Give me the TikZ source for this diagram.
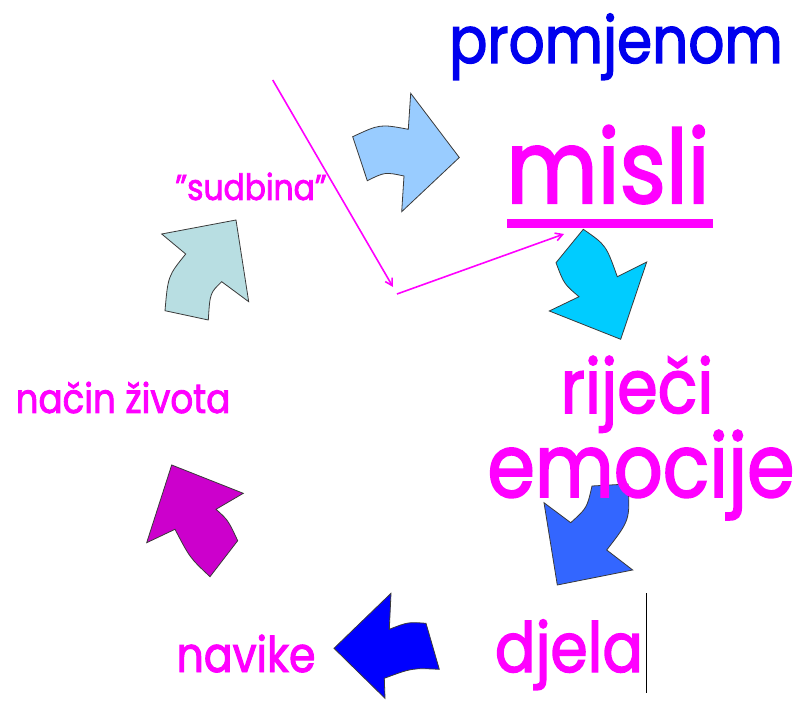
\documentclass[tikz,border=0pt]{standalone}
\usepackage{fontspec}
\setmainfont{Poppins}[FakeStretch=0.87,FakeBold=2]
\usepackage{tikz}
\usetikzlibrary{arrows.meta}
\definecolor{fuchsia}{HTML}{FF00FF}
\definecolor{royal}{HTML}{0000EE}
\definecolor{edge}{HTML}{3A3A3A}
\definecolor{skyArrow}{HTML}{99CCFF}
\definecolor{cyanArrow}{HTML}{00CCFF}
\definecolor{midArrow}{HTML}{3366FF}
\definecolor{deepArrow}{HTML}{0000FF}
\definecolor{plumArrow}{HTML}{CC00CC}
\definecolor{mistArrow}{HTML}{B8DEE2}

\begin{document}
\begin{tikzpicture}[x=1pt,y=-1pt]
  \tikzset{word/.style={text=fuchsia,anchor=base,inner sep=0pt}, block/.style={draw=edge,line width=0.8pt,line join=miter}, pointer/.style={draw=fuchsia,line width=1.6pt,-{Straight Barb[length=7pt,width=8pt]}}}
  \useasboundingbox (0,0) rectangle (796,711);
  % the six bent arrows of the cycle
  \path[block,fill=skyArrow] (352.7,136.7) .. controls (380,124) .. (408.3,129.3) -- (410.7,93.3) -- (459.3,157.5) -- (401.7,211.7) -- (404,176) .. controls (385,172) .. (367.3,180.7) -- cycle;
  \path[block,fill=cyanArrow] (583.3,229.3) .. controls (606,245) .. (617.3,276.7) -- (646.7,262) -- (620.7,339.3) -- (549.3,311) -- (579,296.7) .. controls (564,284) .. (556,262.7) -- cycle;
  \path[block,fill=midArrow] (592,486) -- (628,484) .. controls (630,520) .. (606.7,550) -- (632.7,570) -- (557.3,585) -- (544,502.7) -- (570.7,522.7) .. controls (587,508) .. (592,486) -- cycle;
  \path[block,fill=deepArrow] (391,593.3) -- (334,648.3) -- (385,698.3) -- (384.3,678.3) .. controls (412,668) .. (439.3,669.3) -- (426,623.3) .. controls (408,622) .. (389.3,629.3) -- cycle;
  \path[block,fill=plumArrow] (171.7,465) -- (243.3,493.3) -- (216,509.3) .. controls (228,520) .. (237.7,540.7) -- (210,576.7) .. controls (190,558) .. (175,529.3) -- (146.7,542.7) -- cycle;
  \path[block,fill=mistArrow] (161.7,234) -- (236,220) -- (248.7,301.7) -- (221.7,281.7) .. controls (210,293) .. (208.3,320) -- (165,310.7) .. controls (168,276) .. (185.7,254) -- cycle;
  % words
  \node[word,text=royal,font=\fontsize{65}{65}\selectfont] (promjenom) at (616,63) {promjenom};
  \node[word,font=\fontsize{102}{102}\selectfont] (misli) at (608,203) {misli};
  \fill[fuchsia] (507,219) rectangle (713,228);
  \node[word,font=\fontsize{75}{75}\selectfont] (rijeci) at (637,413) {riječi};
  \node[word,font=\fontsize{88}{88}\selectfont] (emocije) at (641,497) {emocije};
  \node[word,font=\fontsize{69}{69}\selectfont] (djela) at (569,672) {djela};
  \draw[line width=1.5pt] (646.5,593) -- (646.5,693);
  \node[word,font=\fontsize{49}{49}\selectfont] (navike) at (246,672) {navike};
  \node[word,font=\fontsize{41}{41}\selectfont] (nacin) at (123,413) {način života};
  \node[word,font=\fontsize{36}{36}\selectfont] (sudbina) at (251,200) {"sudbina"};
  % pointer lines
  \coordinate (from) at (272.7,80);
  \coordinate (turnA) at (393,287);
  \coordinate (turnB) at (397,294);
  \coordinate (target) at (564,234);
  \draw[pointer] (from) -- (turnA);
  \draw[pointer] (turnB) -- (target);
\end{tikzpicture}
\end{document}
